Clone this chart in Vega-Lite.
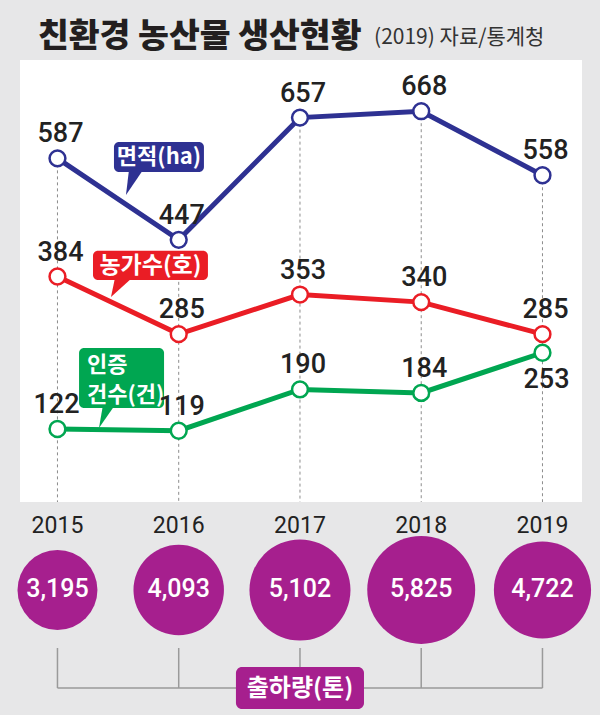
{
  "$schema": "https://vega.github.io/schema/vega-lite/v6.json",
  "width": 562,
  "height": 442,
  "autosize": {"type": "none"},
  "padding": {"left": 20, "top": 60, "right": 18, "bottom": 213},
  "background": "#e7e7e8",
  "config": {
    "view": {"fill": "#ffffff", "stroke": null},
    "axis": {"disable": true},
    "legend": {"disable": true}
  },
  "datasets": {
    "trend": [
      {"year": 2015, "series": "면적(ha)", "value": 587},
      {"year": 2016, "series": "면적(ha)", "value": 447},
      {"year": 2017, "series": "면적(ha)", "value": 657},
      {"year": 2018, "series": "면적(ha)", "value": 668},
      {"year": 2019, "series": "면적(ha)", "value": 558},
      {"year": 2015, "series": "농가수(호)", "value": 384},
      {"year": 2016, "series": "농가수(호)", "value": 285},
      {"year": 2017, "series": "농가수(호)", "value": 353},
      {"year": 2018, "series": "농가수(호)", "value": 340},
      {"year": 2019, "series": "농가수(호)", "value": 285},
      {"year": 2015, "series": "인증건수(건)", "value": 122},
      {"year": 2016, "series": "인증건수(건)", "value": 119},
      {"year": 2017, "series": "인증건수(건)", "value": 190},
      {"year": 2018, "series": "인증건수(건)", "value": 184},
      {"year": 2019, "series": "인증건수(건)", "value": 253}
    ],
    "shipment": [
      {"year": 2015, "shipment": 3195},
      {"year": 2016, "shipment": 4093},
      {"year": 2017, "shipment": 5102},
      {"year": 2018, "shipment": 5825},
      {"year": 2019, "shipment": 4722}
    ]
  },
  "layer": [
    {
      "data": {"name": "trend"},
      "transform": [{"filter": "datum.series === '면적(ha)'"}],
      "mark": {"type": "rule", "stroke": "#8c8c8c", "strokeWidth": 1, "strokeDash": [3, 3]},
      "encoding": {
        "x": {"field": "year", "type": "quantitative", "scale": {"domain": [2014.691, 2019.326], "nice": false, "zero": false}, "axis": null},
        "y": {"field": "value", "type": "quantitative", "scale": {"domain": [-3.44, 756], "nice": false, "zero": false}, "axis": null},
        "y2": {"datum": -3.44}
      }
    },
    {
      "data": {"name": "trend"},
      "mark": {"type": "line", "strokeWidth": 5},
      "encoding": {
        "x": {"field": "year", "type": "quantitative"},
        "y": {"field": "value", "type": "quantitative"},
        "color": {"field": "series", "type": "nominal", "scale": {"domain": ["면적(ha)", "농가수(호)", "인증건수(건)"], "range": ["#2e3192", "#ea1d25", "#00a651"]}, "legend": null}
      }
    },
    {
      "data": {"name": "trend"},
      "mark": {"type": "point", "filled": true, "fill": "#ffffff", "size": 250, "strokeWidth": 2.5, "opacity": 1},
      "encoding": {
        "x": {"field": "year", "type": "quantitative"},
        "y": {"field": "value", "type": "quantitative"},
        "stroke": {"field": "series", "type": "nominal", "scale": {"domain": ["면적(ha)", "농가수(호)", "인증건수(건)"], "range": ["#2e3192", "#ea1d25", "#00a651"]}, "legend": null}
      }
    },
    {
      "data": {"values": [{"label": "면적(ha)"}]},
      "mark": {"type": "point", "filled": true, "fill": "#2e3192", "opacity": 1, "size": 1600, "shape": "M -0.25 -0.6 L 0.45 -0.6 L -0.4 0.65 Z"},
      "encoding": {"x": {"datum": 2015.631}, "y": {"datum": 546.4}}
    },
    {
      "data": {"values": [{"label": "면적(ha)"}]},
      "mark": {"type": "rect", "fill": "#2e3192", "cornerRadius": 5},
      "encoding": {"x": {"datum": 2015.466}, "x2": {"datum": 2016.208}, "y": {"datum": 615.1}, "y2": {"datum": 563.6}}
    },
    {
      "data": {"values": [{"label": "면적(ha)"}]},
      "mark": {"type": "text", "font": "Noto Sans CJK KR", "fontWeight": "bold", "fontSize": 22, "fill": "#ffffff", "align": "center", "baseline": "middle"},
      "encoding": {"x": {"datum": 2015.837}, "y": {"datum": 589.3}, "text": {"field": "label"}}
    },
    {
      "data": {"values": [{"label": "농가수(호)"}]},
      "mark": {"type": "point", "filled": true, "fill": "#ea1d25", "opacity": 1, "size": 1600, "shape": "M -0.35 -0.5 L 0.5 -0.5 L -0.55 0.45 Z"},
      "encoding": {"x": {"datum": 2015.532}, "y": {"datum": 364.3}}
    },
    {
      "data": {"values": [{"label": "농가수(호)"}]},
      "mark": {"type": "rect", "fill": "#ea1d25", "cornerRadius": 5},
      "encoding": {"x": {"datum": 2015.293}, "x2": {"datum": 2016.241}, "y": {"datum": 428.35}, "y2": {"datum": 378.0}}
    },
    {
      "data": {"values": [{"label": "농가수(호)"}]},
      "mark": {"type": "text", "font": "Noto Sans CJK KR", "fontWeight": "bold", "fontSize": 23, "fill": "#ffffff", "align": "center", "baseline": "middle"},
      "encoding": {"x": {"datum": 2015.767}, "y": {"datum": 402.9}, "text": {"field": "label"}}
    },
    {
      "data": {"values": [{"label": "인증건수(건)"}]},
      "mark": {"type": "point", "filled": true, "fill": "#00a651", "opacity": 1, "size": 1600, "shape": "M -0.15 -0.55 L 0.45 -0.55 L -0.35 0.6 Z"},
      "encoding": {"x": {"datum": 2015.4}, "y": {"datum": 144.3}}
    },
    {
      "data": {"values": [{"label": "인증건수(건)"}]},
      "mark": {"type": "rect", "fill": "#00a651", "cornerRadius": 5},
      "encoding": {"x": {"datum": 2015.178}, "x2": {"datum": 2015.879}, "y": {"datum": 261.2}, "y2": {"datum": 158.1}}
    },
    {
      "data": {"values": [{"line1": "인증", "line2": "건수(건)"}]},
      "mark": {"type": "text", "font": "Noto Sans CJK KR", "fontWeight": "bold", "fontSize": 22, "fill": "#ffffff", "align": "left", "baseline": "alphabetic"},
      "encoding": {"x": {"datum": 2015.244}, "y": {"datum": 219.9}, "text": {"field": "line1"}}
    },
    {
      "data": {"values": [{"line1": "인증", "line2": "건수(건)"}]},
      "mark": {"type": "text", "font": "Noto Sans CJK KR", "fontWeight": "bold", "fontSize": 22, "fill": "#ffffff", "align": "left", "baseline": "alphabetic"},
      "encoding": {"x": {"datum": 2015.244}, "y": {"datum": 168.4}, "text": {"field": "line2"}}
    },
    {
      "data": {"name": "trend"},
      "transform": [{"filter": "!(datum.series === '인증건수(건)' && (datum.year === 2019 || datum.year === 2015))"}],
      "mark": {"type": "text", "font": "Roboto", "fontSize": 27, "fontWeight": 500, "fill": "#222222", "align": "center", "baseline": "alphabetic", "dx": 3, "dy": -16},
      "encoding": {
        "x": {"field": "year", "type": "quantitative"},
        "y": {"field": "value", "type": "quantitative"},
        "text": {"field": "value", "type": "quantitative", "format": "d"}
      }
    },
    {
      "data": {"name": "trend"},
      "transform": [{"filter": "datum.series === '인증건수(건)' && datum.year === 2015"}],
      "mark": {"type": "text", "font": "Roboto", "fontSize": 27, "fontWeight": 500, "fill": "#222222", "align": "center", "baseline": "alphabetic", "dx": -1, "dy": -16},
      "encoding": {
        "x": {"field": "year", "type": "quantitative"},
        "y": {"field": "value", "type": "quantitative"},
        "text": {"field": "value", "type": "quantitative", "format": "d"}
      }
    },
    {
      "data": {"name": "trend"},
      "transform": [{"filter": "datum.series === '인증건수(건)' && datum.year === 2019"}],
      "mark": {"type": "text", "font": "Roboto", "fontSize": 27, "fontWeight": 500, "fill": "#222222", "align": "center", "baseline": "alphabetic", "dx": 4, "dy": 35},
      "encoding": {
        "x": {"field": "year", "type": "quantitative"},
        "y": {"field": "value", "type": "quantitative"},
        "text": {"field": "value", "type": "quantitative", "format": "d"}
      }
    },
    {
      "data": {"name": "shipment"},
      "mark": {"type": "text", "font": "Roboto", "fontSize": 23, "fill": "#222222", "align": "center", "baseline": "alphabetic"},
      "encoding": {
        "x": {"field": "year", "type": "quantitative"},
        "y": {"datum": -56.7},
        "text": {"field": "year", "type": "nominal"}
      }
    },
    {
      "data": {"name": "shipment"},
      "mark": {"type": "rule", "stroke": "#9a9a9a", "strokeWidth": 1.5},
      "encoding": {
        "x": {"field": "year", "type": "quantitative"},
        "y": {"datum": -254.3},
        "y2": {"datum": -323}
      }
    },
    {
      "data": {"values": [{"label": "출하량(톤)"}]},
      "mark": {"type": "rule", "stroke": "#9a9a9a", "strokeWidth": 1.5},
      "encoding": {"x": {"datum": 2015}, "x2": {"datum": 2019}, "y": {"datum": -323}}
    },
    {
      "data": {"name": "shipment"},
      "mark": {"type": "circle", "fill": "#a61f8e", "opacity": 1},
      "encoding": {
        "x": {"field": "year", "type": "quantitative"},
        "y": {"datum": -154.6},
        "size": {"field": "shipment", "type": "quantitative", "scale": {"type": "linear", "domain": [0, 6000], "range": [0, 12000], "zero": true}, "legend": null}
      }
    },
    {
      "data": {"name": "shipment"},
      "mark": {"type": "text", "font": "Roboto", "fontSize": 25, "fontWeight": 500, "fill": "#ffffff", "align": "center", "baseline": "alphabetic"},
      "encoding": {
        "x": {"field": "year", "type": "quantitative"},
        "y": {"datum": -167.4},
        "text": {"field": "shipment", "type": "quantitative", "format": ","}
      }
    },
    {
      "data": {"values": [{"label": "출하량(톤)"}]},
      "mark": {"type": "rect", "fill": "#a61f8e", "cornerRadius": 6},
      "encoding": {"x": {"datum": 2016.472}, "x2": {"datum": 2017.528}, "y": {"datum": -286.9}, "y2": {"datum": -359.1}}
    },
    {
      "data": {"values": [{"label": "출하량(톤)"}]},
      "mark": {"type": "text", "font": "Noto Sans CJK KR", "fontWeight": "bold", "fontSize": 24, "fill": "#ffffff", "align": "center", "baseline": "middle"},
      "encoding": {"x": {"datum": 2017}, "y": {"datum": -324.7}, "text": {"field": "label"}}
    },
    {
      "data": {"values": [{"title": "친환경 농산물 생산현황"}]},
      "mark": {"type": "text", "font": "Noto Sans CJK KR", "fontWeight": 900, "fontSize": 33.5, "fill": "#231f20", "align": "left", "baseline": "alphabetic"},
      "encoding": {"x": {"datum": 2014.839}, "y": {"datum": 779.1}, "text": {"field": "title"}}
    },
    {
      "data": {"values": [{"note": "(2019) 자료/통계청"}]},
      "mark": {"type": "text", "font": "Noto Sans CJK KR", "fontSize": 21, "fill": "#333333", "align": "left", "baseline": "alphabetic"},
      "encoding": {"x": {"datum": 2017.611}, "y": {"datum": 783.5}, "text": {"field": "note"}}
    }
  ]
}
